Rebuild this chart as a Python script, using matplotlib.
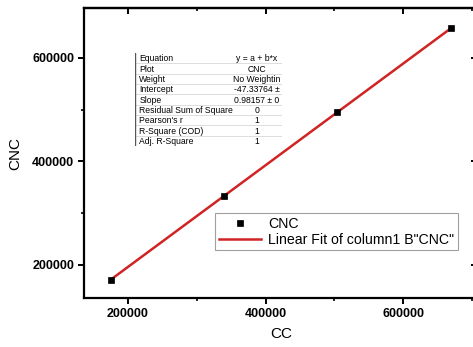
import numpy as np
import matplotlib
matplotlib.use("Agg")
from matplotlib import pyplot as plt
from matplotlib.ticker import MultipleLocator

plt.rcParams["font.family"] = ["Liberation Sans", "DejaVu Sans"]

# data
cc = [175300, 339600, 504000, 669800]
cnc = [171800, 333700, 495600, 657600]

# fit results table (text as shown, partly cut off)
table_keys = ["Equation", "Plot", "Weight", "Intercept", "Slope",
              "Residual Sum of Square", "Pearson's r", "R-Square (COD)",
              "Adj. R-Square"]
table_vals = ["y = a + b*x", "CNC", "No Weightin", "-47.33764 \u00b1",
              "0.98157 \u00b1 0", "0", "1", "1", "1"]

red = "#d02424"

fig = plt.figure(figsize=(4.73, 3.47), dpi=100)
ax = fig.add_axes([84 / 473, 1 - 298 / 347, (479 - 84) / 473, (298 - 8) / 347])

# linear fit
b, a = np.polyfit(cc, cnc, 1)
xs = np.array([cc[0], cc[-1]])
ax.plot(cc, cnc, "s", color="black", markersize=4.5, markeredgewidth=0.5,
        zorder=3, label="CNC")
ax.plot(xs, a + b * xs, color=red, lw=1.8, zorder=2,
        label='Linear Fit of column1 B"CNC"')

ax.set_xlim(136000, 710000)
ax.set_ylim(136200, 696600)
ax.xaxis.set_major_locator(MultipleLocator(200000))
ax.xaxis.set_minor_locator(MultipleLocator(100000))
ax.yaxis.set_major_locator(MultipleLocator(200000))
ax.yaxis.set_minor_locator(MultipleLocator(100000))
for s in ax.spines.values():
    s.set_linewidth(1.6)
ax.tick_params(which="major", direction="out", length=4, width=1.4,
               labelsize=9, pad=3)
ax.tick_params(which="minor", direction="out", length=2.5, width=1.2)
for lab in ax.get_xticklabels() + ax.get_yticklabels():
    lab.set_fontweight("bold")

# inward ticks on top and right
top = ax.secondary_xaxis("top")
top.xaxis.set_major_locator(MultipleLocator(200000))
top.xaxis.set_minor_locator(MultipleLocator(100000))
top.tick_params(which="major", direction="in", length=4, width=1.4, labeltop=False)
top.tick_params(which="minor", direction="in", length=2.5, width=1.2)
top.spines["top"].set_linewidth(1.6)
right = ax.secondary_yaxis("right")
right.yaxis.set_major_locator(MultipleLocator(200000))
right.yaxis.set_minor_locator(MultipleLocator(100000))
right.tick_params(which="major", direction="in", length=6, width=1.4, labelright=False)
right.tick_params(which="minor", direction="in", length=4, width=1.2)

ax.set_xlabel("CC", fontsize=11, labelpad=5)
ax.set_ylabel("CNC", fontsize=11, labelpad=7)

leg = ax.legend(loc="upper left", bbox_to_anchor=(215 / 473, 1 - 213 / 347),
                bbox_transform=fig.transFigure, fontsize=10.2, frameon=True,
                fancybox=False, edgecolor="#888888", borderaxespad=0,
                borderpad=0.25, handlelength=3.0, handletextpad=0.5,
                labelspacing=0.15, markerscale=1.0)
leg.get_frame().set_linewidth(0.8)

# fit results table
tx0, tx1, ty0, ty1 = 135, 282, 53, 146
tab = fig.add_axes([tx0 / 473, 1 - ty1 / 347, (tx1 - tx0) / 473, (ty1 - ty0) / 347])
tab.set_xlim(0, 1)
tab.set_ylim(len(table_keys), 0)
tab.axis("off")
tab.add_patch(plt.Rectangle((0, 0), 1, len(table_keys), color="white", zorder=0))
split = (232 - tx0) / (tx1 - tx0)
for i, (k, v) in enumerate(zip(table_keys, table_vals)):
    tab.text(0.03, i + 0.55, k, fontsize=6.2, va="center", ha="left")
    tab.text((split + 1) / 2, i + 0.55, v, fontsize=6.2, va="center", ha="center")
    if i > 0:
        tab.plot([0, 1], [i, i], color="#d8d8d8", lw=0.6)
tab.plot([0, 0], [0, len(table_keys)], color="#555555", lw=1.0)

fig.savefig("out.png", dpi=100)
